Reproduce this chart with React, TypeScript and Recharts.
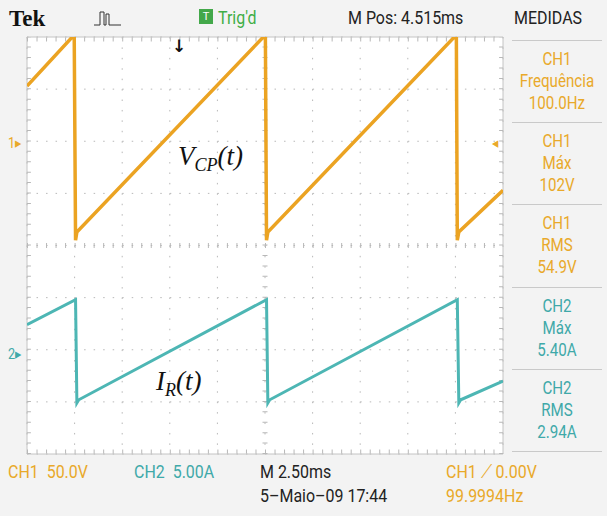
import React from "react";
import { LineChart, Line, XAxis, YAxis, CartesianGrid, ReferenceLine } from "recharts";

// tempo em ms (2,50 ms/div, 10 divisões)
const timeCh1 = [0, 2.48, 2.55, 2.62, 12.52, 12.58, 12.65, 22.55, 22.6, 22.68, 25];
const vcp = [53, 102, -95, -87, 102, -95, -87, 102, -95, -87, -47];
const timeCh2 = [0, 2.55, 2.62, 2.72, 12.58, 12.65, 12.75, 22.6, 22.68, 22.78, 25];
const ir = [2.4, 4.8, -5.1, -4.8, 4.8, -5.1, -4.8, 4.8, -5.1, -4.8, -3.0];

const xTicks = [0, 2.5, 5, 7.5, 10, 12.5, 15, 17.5, 20, 22.5, 25];
const vTicks = [-300, -250, -200, -150, -100, -50, 0, 50, 100];

const measures = [
  { ch: "CH1", name: "Frequência", value: "100.0Hz", color: "#e9a92a" },
  { ch: "CH1", name: "Máx", value: "102V", color: "#e9a92a" },
  { ch: "CH1", name: "RMS", value: "54.9V", color: "#e9a92a" },
  { ch: "CH2", name: "Máx", value: "5.40A", color: "#3fa9a9" },
  { ch: "CH2", name: "RMS", value: "2.94A", color: "#3fa9a9" },
];

const ORANGE = "#eba322";
const TEAL = "#4db6b4";
const TXT_OR = "#e9a92a";
const TXT_TE = "#3fa9a9";
const GRID = "#b8b8b8";
const NARROW = "'Roboto', 'DejaVu Sans', sans-serif";

const ch1Data = timeCh1.map((t, i) => ({ t, v: vcp[i] }));
const ch2Data = timeCh2.map((t, i) => ({ t, i: ir[i] }));

function Txt({ x, y, color = "#222", size = 19, children, style }: any) {
  return (
    <div
      style={{
        position: "absolute",
        left: x,
        top: y,
        transform: "translateY(-50%) scaleX(0.84)",
        transformOrigin: "left center",
        color,
        fontSize: size,
        lineHeight: 1,
        fontFamily: NARROW,
        whiteSpace: "nowrap",
        ...style,
      }}
    >
      {children}
    </div>
  );
}

export default function App() {
  return (
    <div style={{ position: "fixed", left: 0, top: 0, width: 607, height: 516, background: "#f3f3f3", overflow: "hidden" }}>
      <LineChart width={607} height={516} data={ch1Data} margin={{ top: 37, left: 27, right: 104, bottom: 62 }}>
        <XAxis dataKey="t" type="number" domain={[0, 25]} ticks={xTicks} hide allowDataOverflow />
        <YAxis yAxisId="v" type="number" domain={[-300, 100]} ticks={vTicks} hide allowDataOverflow />
        <YAxis yAxisId="i" type="number" domain={[-10, 30]} hide allowDataOverflow />
        <CartesianGrid yAxisId="v" vertical={false} fill="#ffffff" stroke={GRID} strokeDasharray="1.5 8.02" />
        <CartesianGrid yAxisId="v" horizontal={false} stroke={GRID} strokeDasharray="1.5 8.92" />
        {/* borda */}
        <ReferenceLine yAxisId="v" x={0} stroke="#c4c4c4" />
        <ReferenceLine yAxisId="v" x={25} stroke="#c4c4c4" />
        <ReferenceLine yAxisId="v" y={100} stroke="#c4c4c4" />
        <ReferenceLine yAxisId="v" y={-300} stroke="#c4c4c4" />
        {/* marcas de subdivisão */}
        <ReferenceLine yAxisId="v" x={0.1} stroke={GRID} strokeWidth={4} strokeDasharray="1 9.42" />
        <ReferenceLine yAxisId="v" x={24.9} stroke={GRID} strokeWidth={4} strokeDasharray="1 9.42" />
        <ReferenceLine yAxisId="v" y={97.6} stroke={GRID} strokeWidth={4} strokeDasharray="1 8.52" />
        <ReferenceLine yAxisId="v" y={-297.6} stroke={GRID} strokeWidth={4} strokeDasharray="1 8.52" />
        <ReferenceLine yAxisId="v" x={12.5} stroke={GRID} strokeWidth={5} strokeDasharray="1 9.42" />
        <ReferenceLine yAxisId="v" y={-100} stroke={GRID} strokeWidth={5} strokeDasharray="1 8.52" />
        <Line yAxisId="v" data={ch1Data} dataKey="v" type="linear" stroke={ORANGE} strokeWidth={3.5} dot={false} isAnimationActive={false} />
        <Line yAxisId="i" data={ch2Data} dataKey="i" type="linear" stroke={TEAL} strokeWidth={3} dot={false} isAnimationActive={false} />
      </LineChart>

      {/* cabeçalho */}
      <div style={{ position: "absolute", left: 9, top: 7, fontSize: 23, lineHeight: 1, color: "#111", fontFamily: "'Liberation Serif', serif", fontWeight: "bold" }}>Tek</div>
      <svg style={{ position: "absolute", left: 94, top: 9 }} width={28} height={18}>
        <polyline points="0,16 6,16 6,3 10,3 10,16 12,16 12,5 15,5 15,16 27,16" fill="none" stroke="#333" strokeWidth={1} />
      </svg>
      <div style={{ position: "absolute", left: 199, top: 9, width: 14, height: 15, background: "#43a84a", color: "#fff", fontSize: 11, lineHeight: "15px", textAlign: "center", fontFamily: NARROW }}>T</div>
      <Txt x={218} y={17} color="#3fae46">Trig'd</Txt>
      <Txt x={348} y={17}>M Pos: 4.515ms</Txt>
      <Txt x={514} y={17}>MEDIDAS</Txt>
      <div style={{ position: "absolute", left: 172, top: 38, fontSize: 17, lineHeight: 1, color: "#111", fontWeight: "bold", fontFamily: "'DejaVu Sans', sans-serif" }}>↓</div>

      {/* marcadores de canal */}
      <Txt x={8} y={143} size={15} color={TXT_OR}>1▸</Txt>
      <Txt x={8} y={354} size={15} color={TXT_TE}>2▸</Txt>
      <Txt x={492} y={143} size={15} color={TXT_OR}>◂</Txt>

      {/* rótulos das curvas */}
      <div style={{ position: "absolute", left: 178, top: 143, fontFamily: "'Liberation Serif', serif", fontStyle: "italic", fontSize: 27, color: "#111", lineHeight: 1 }}>
        V<sub style={{ fontSize: 18 }}>CP</sub>(t)
      </div>
      <div style={{ position: "absolute", left: 156, top: 368, fontFamily: "'Liberation Serif', serif", fontStyle: "italic", fontSize: 27, color: "#111", lineHeight: 1 }}>
        I<sub style={{ fontSize: 18 }}>R</sub>(t)
      </div>

      {/* painel de medidas */}
      {measures.map((m, k) => {
        const top = 40 + k * 82.2;
        return (
          <React.Fragment key={k}>
            <div style={{ position: "absolute", left: 512, top, width: 90, height: 1, background: "#c9c9c9" }} />
            {[m.ch, m.name, m.value].map((s, j) => (
              <div key={j} style={{ position: "absolute", left: 505, width: 104, top: top + 19 + j * 22, transform: "translateY(-50%) scaleX(0.84)", textAlign: "center", color: m.color, fontSize: 18, lineHeight: 1, fontFamily: NARROW }}>
                {s}
              </div>
            ))}
          </React.Fragment>
        );
      })}
      <div style={{ position: "absolute", left: 512, top: 451, width: 90, height: 1, background: "#c9c9c9" }} />

      {/* rodapé */}
      <Txt x={8} y={471} color={TXT_OR}>CH1&nbsp;&nbsp;50.0V</Txt>
      <Txt x={134} y={471} color={TXT_TE}>CH2&nbsp;&nbsp;5.00A</Txt>
      <Txt x={260} y={471}>M 2.50ms</Txt>
      <Txt x={446} y={471} color={TXT_OR}>CH1 ⟋ 0.00V</Txt>
      <Txt x={260} y={495}>5–Maio–09 17:44</Txt>
      <Txt x={446} y={495} color={TXT_OR}>99.9994Hz</Txt>
    </div>
  );
}
